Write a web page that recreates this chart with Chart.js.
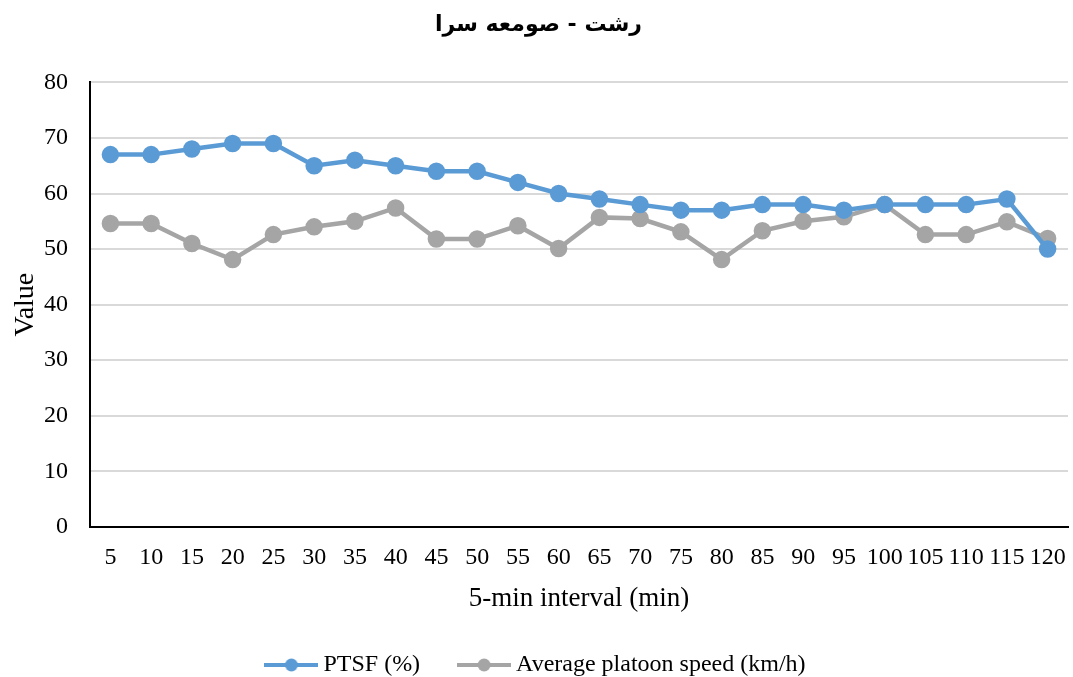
<!DOCTYPE html>
<html><head><meta charset="utf-8">
<script src="https://cdn.jsdelivr.net/npm/chart.js@4/dist/chart.umd.min.js"></script>
<style>html,body{margin:0;padding:0;background:#fff}#wrap{width:1073px;height:677px}</style>
</head><body><div id="wrap"><canvas id="c" width="1073" height="677"></canvas></div>
<script>
const categories = ['5','10','15','20','25','30','35','40','45','50','55','60','65','70','75','80','85','90','95','100','105','110','115','120'];
const ptsf = [67,67,68,69,69,65,66,65,64,64,62,60,59,58,57,57,58,58,57,58,58,58,59,50];
const speed = [54.6,54.6,51.0,48.1,52.6,54.0,55.0,57.4,51.8,51.8,54.2,50.1,55.7,55.5,53.1,48.1,53.3,55.0,55.8,58.0,52.6,52.6,54.9,51.9];
const seriesNames = ['PTSF (%)','Average platoon speed (km/h)'];
const colors = ['#5B9BD5','#A5A5A5'];

function legendIcon(color){
  const cv=document.createElement('canvas'); cv.width=54; cv.height=16;
  const g=cv.getContext('2d');
  g.strokeStyle=color; g.lineWidth=4; g.lineCap='butt';
  g.beginPath(); g.moveTo(0,8); g.lineTo(54,8); g.stroke();
  g.fillStyle=color; g.beginPath(); g.arc(27,8,6.5,0,Math.PI*2); g.fill();
  return cv;
}
const serif = "'Liberation Serif','Times New Roman',serif";
new Chart(document.getElementById('c'),{
  type:'line',
  data:{labels:categories,datasets:[
    {label:seriesNames[0],data:ptsf,borderColor:colors[0],backgroundColor:colors[0],borderWidth:4.5,pointRadius:6.5,pointHoverRadius:6.5,tension:0},
    {label:seriesNames[1],data:speed,borderColor:colors[1],backgroundColor:colors[1],borderWidth:4.5,pointRadius:6.5,pointHoverRadius:6.5,tension:0}
  ]},
  options:{
    responsive:false,animation:false,
    layout:{autoPadding:false,padding:{left:9,right:5,top:10,bottom:0}},
    plugins:{
      title:{display:true,text:'رشت - صومعه سرا',font:{family:"'DejaVu Sans',sans-serif",size:22,weight:'bold'},color:'#000',padding:{top:2,bottom:44}},
      legend:{position:'bottom',maxHeight:68,labels:{usePointStyle:true,pointStyleWidth:40,color:'#000',font:{family:serif,size:24},padding:44,
        generateLabels(chart){return chart.data.datasets.map((d,i)=>({text:d.label,pointStyle:legendIcon(d.borderColor),fillStyle:d.borderColor,strokeStyle:d.borderColor,lineWidth:0,datasetIndex:i,hidden:false}));}}},
      tooltip:{enabled:false}
    },
    scales:{
      x:{offset:true,afterFit(s){s.paddingRight=0;s.paddingLeft=0;},grid:{display:false},border:{display:true,color:'#000',width:2},
        ticks:{color:'#000',font:{family:serif,size:24},padding:9,maxRotation:0,autoSkip:false},
        title:{display:true,text:'5-min interval (min)',color:'#000',font:{family:serif,size:27},padding:{top:1,bottom:-6}}},
      y:{min:0,max:80,afterFit(s){s.width=81;},ticks:{stepSize:10,color:'#000',font:{family:serif,size:24},padding:22},
        grid:{color:'#d9d9d9',lineWidth:2,drawTicks:false},border:{display:true,color:'#000',width:2},
        title:{display:true,text:'Value',color:'#000',font:{family:serif,size:28},padding:{top:0,bottom:0}}}
    }
  }
});
</script></body></html>
